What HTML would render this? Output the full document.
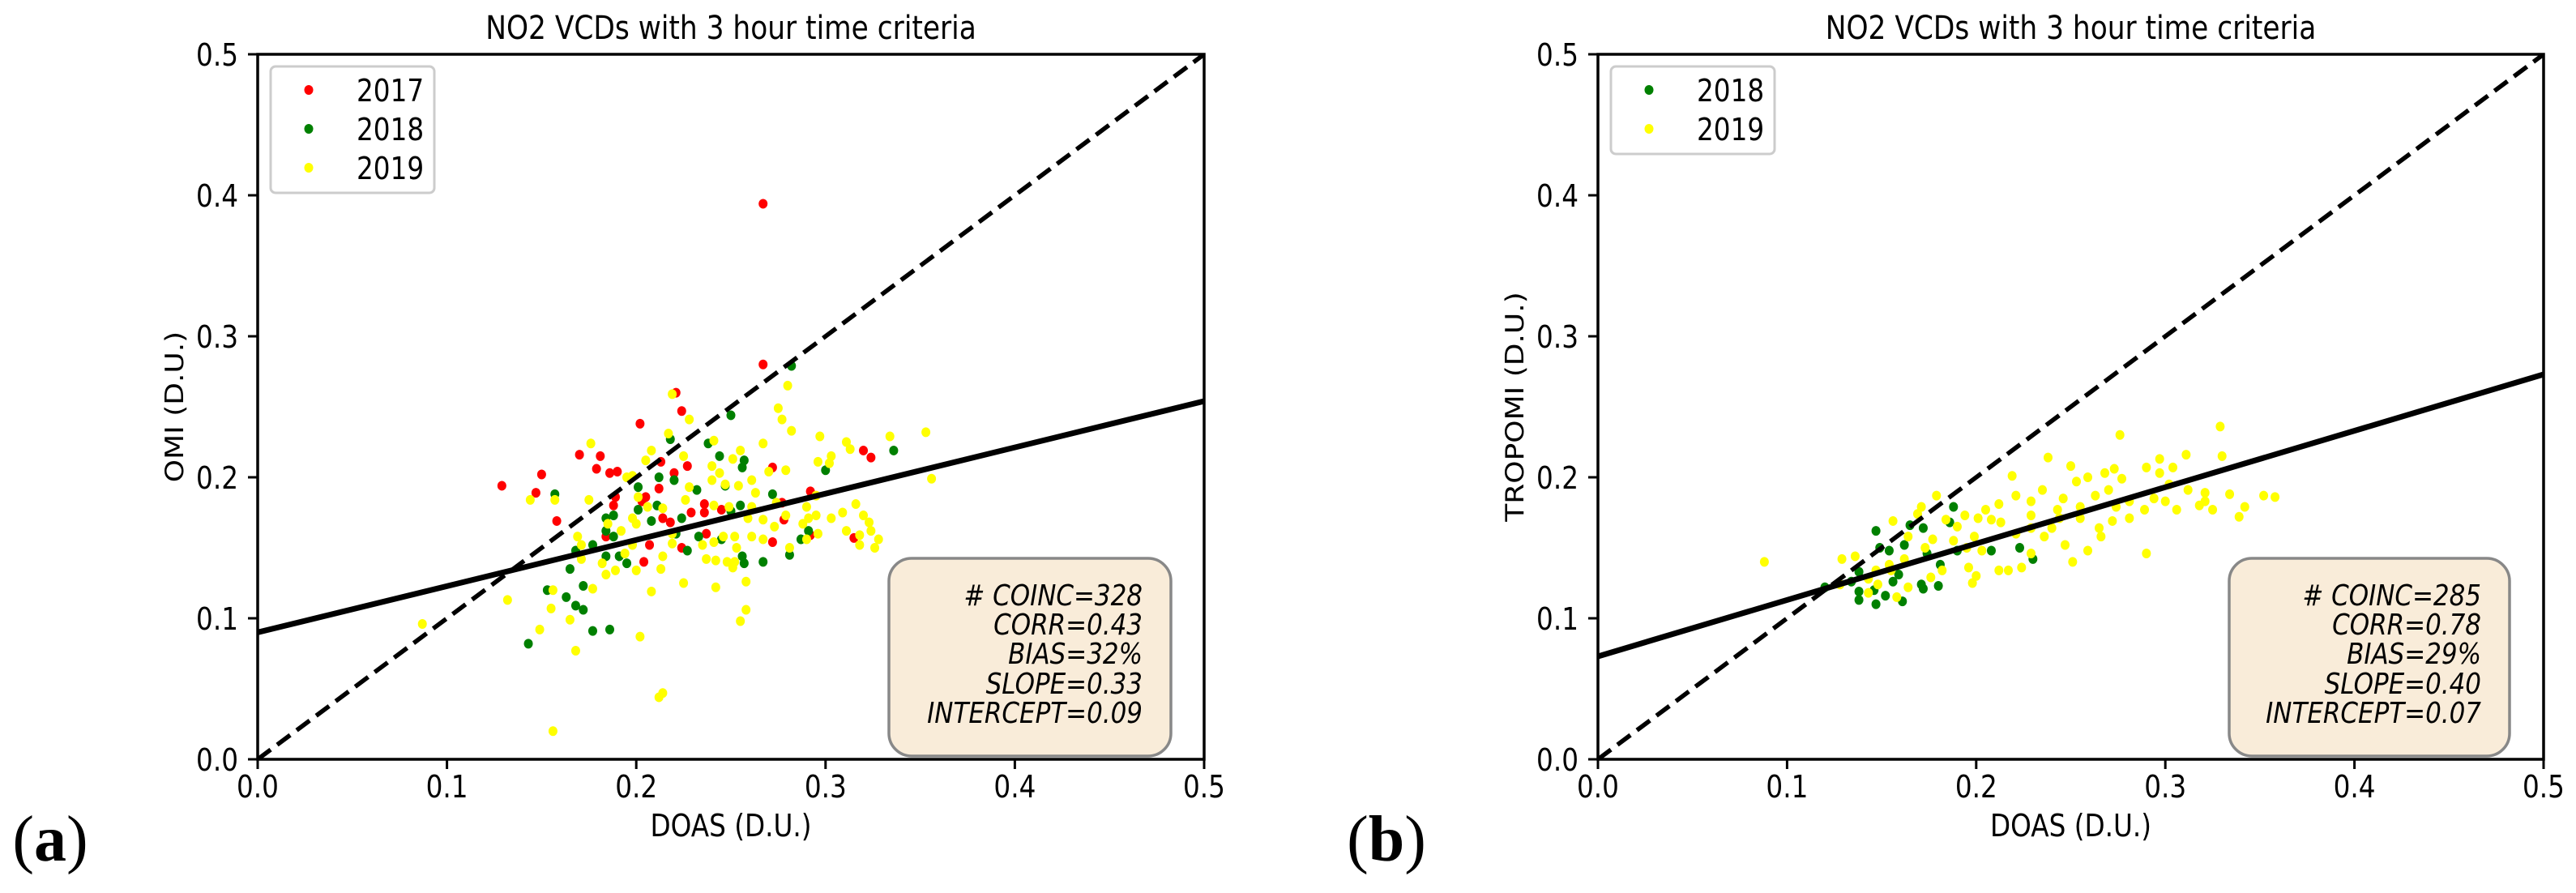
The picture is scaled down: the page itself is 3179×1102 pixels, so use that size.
<!DOCTYPE html>
<html><head><meta charset="utf-8">
<style>
html,body{margin:0;padding:0;background:#fff;}
svg{display:block;}
</style></head>
<body>
<svg id="fig" xmlns="http://www.w3.org/2000/svg" width="3179" height="1102" viewBox="0 0 3179 1102" font-family="DejaVu Sans, Liberation Sans, sans-serif"></svg>
<script>
// ---------- data (x = DOAS, y = satellite, in D.U.) ----------
const tickValues = [0.0, 0.1, 0.2, 0.3, 0.4, 0.5];
const tickLabels = ["0.0", "0.1", "0.2", "0.3", "0.4", "0.5"];

const a2017x = [0.267,0.267,0.221,0.224,0.202,0.170,0.181,0.150,0.129,0.147,0.179,0.186,0.190,0.212,0.220,0.227,0.158,0.205,0.189,0.188,0.203,0.214,0.218,0.229,0.236,0.236,0.245,0.272,0.277,0.278,0.292,0.320,0.324,0.315,0.292,0.272,0.237,0.224,0.204,0.207,0.184,0.213];
const a2017y = [0.394,0.280,0.260,0.247,0.238,0.216,0.215,0.202,0.194,0.189,0.206,0.203,0.204,0.192,0.203,0.208,0.169,0.186,0.186,0.180,0.183,0.171,0.168,0.175,0.181,0.175,0.177,0.207,0.182,0.170,0.190,0.219,0.214,0.157,0.159,0.154,0.160,0.150,0.140,0.152,0.158,0.211];

const a2018x = [0.282,0.250,0.218,0.238,0.244,0.256,0.257,0.300,0.336,0.212,0.220,0.201,0.232,0.157,0.247,0.272,0.211,0.201,0.184,0.188,0.208,0.224,0.250,0.255,0.221,0.184,0.188,0.177,0.168,0.184,0.191,0.195,0.233,0.227,0.256,0.257,0.267,0.281,0.287,0.291,0.165,0.172,0.153,0.163,0.168,0.172,0.177,0.186,0.143,0.245];
const a2018y = [0.279,0.244,0.227,0.224,0.215,0.207,0.212,0.205,0.219,0.200,0.198,0.193,0.191,0.188,0.194,0.188,0.180,0.177,0.171,0.173,0.169,0.171,0.176,0.180,0.160,0.162,0.158,0.152,0.148,0.144,0.144,0.139,0.158,0.148,0.144,0.139,0.140,0.145,0.156,0.162,0.135,0.123,0.120,0.115,0.109,0.106,0.091,0.092,0.082,0.156];

const a2019x = [0.353,0.356,0.334,0.311,0.313,0.297,0.303,0.296,0.302,0.275,0.280,0.277,0.282,0.267,0.279,0.270,0.219,0.228,0.217,0.208,0.176,0.225,0.241,0.255,0.205,0.251,0.240,0.244,0.195,0.240,0.247,0.254,0.261,0.144,0.157,0.175,0.214,0.228,0.226,0.241,0.249,0.263,0.261,0.274,0.290,0.295,0.316,0.309,0.303,0.320,0.323,0.295,0.291,0.279,0.267,0.259,0.273,0.288,0.311,0.318,0.324,0.328,0.318,0.326,0.296,0.290,0.281,0.267,0.261,0.252,0.246,0.241,0.235,0.253,0.248,0.252,0.242,0.251,0.237,0.198,0.201,0.206,0.198,0.200,0.192,0.185,0.169,0.171,0.171,0.182,0.184,0.189,0.200,0.194,0.214,0.213,0.198,0.219,0.219,0.177,0.156,0.208,0.225,0.242,0.258,0.258,0.255,0.132,0.155,0.165,0.149,0.087,0.168,0.202,0.214,0.212,0.156];
const a2019y = [0.232,0.199,0.229,0.225,0.220,0.229,0.215,0.211,0.210,0.249,0.265,0.241,0.233,0.224,0.205,0.204,0.259,0.241,0.231,0.219,0.224,0.215,0.226,0.219,0.212,0.213,0.208,0.203,0.200,0.198,0.195,0.194,0.198,0.184,0.184,0.184,0.178,0.193,0.184,0.180,0.179,0.189,0.179,0.182,0.179,0.187,0.181,0.175,0.171,0.173,0.168,0.173,0.171,0.173,0.170,0.171,0.165,0.167,0.162,0.159,0.162,0.156,0.152,0.150,0.160,0.156,0.150,0.156,0.158,0.158,0.158,0.154,0.152,0.150,0.140,0.140,0.141,0.136,0.142,0.201,0.186,0.179,0.171,0.167,0.162,0.167,0.158,0.152,0.142,0.139,0.131,0.134,0.134,0.146,0.144,0.135,0.152,0.160,0.153,0.121,0.120,0.119,0.125,0.122,0.126,0.106,0.098,0.113,0.107,0.099,0.092,0.096,0.077,0.087,0.047,0.044,0.020];

const b2018x = [0.188,0.186,0.165,0.147,0.172,0.162,0.149,0.154,0.174,0.190,0.208,0.223,0.230,0.181,0.138,0.159,0.156,0.134,0.138,0.146,0.171,0.180,0.172,0.138,0.147,0.161,0.152,0.120];
const b2018y = [0.179,0.168,0.166,0.162,0.164,0.152,0.150,0.148,0.146,0.148,0.148,0.150,0.142,0.138,0.133,0.131,0.126,0.126,0.119,0.120,0.124,0.123,0.121,0.113,0.110,0.112,0.116,0.122];

const b2019x = [0.088,0.329,0.276,0.330,0.311,0.297,0.238,0.250,0.259,0.273,0.290,0.304,0.352,0.358,0.342,0.339,0.325,0.318,0.334,0.321,0.312,0.302,0.294,0.289,0.281,0.270,0.263,0.255,0.246,0.243,0.235,0.229,0.219,0.221,0.212,0.205,0.201,0.208,0.213,0.194,0.190,0.184,0.179,0.171,0.188,0.199,0.203,0.196,0.200,0.198,0.217,0.224,0.229,0.236,0.247,0.251,0.259,0.266,0.272,0.281,0.290,0.240,0.229,0.221,0.169,0.164,0.156,0.162,0.154,0.147,0.143,0.136,0.129,0.128,0.143,0.158,0.164,0.176,0.182,0.173,0.177,0.195,0.212,0.265,0.274,0.297,0.277,0.253,0.268,0.300,0.306,0.321,0.244,0.255,0.229,0.155,0.148];
const b2019y = [0.140,0.236,0.230,0.215,0.216,0.213,0.214,0.208,0.200,0.206,0.207,0.207,0.187,0.186,0.179,0.172,0.177,0.180,0.188,0.189,0.191,0.195,0.185,0.177,0.183,0.191,0.187,0.179,0.185,0.177,0.191,0.183,0.201,0.187,0.181,0.177,0.171,0.170,0.168,0.173,0.165,0.170,0.187,0.179,0.155,0.158,0.148,0.136,0.130,0.125,0.134,0.136,0.146,0.158,0.152,0.140,0.148,0.158,0.169,0.171,0.146,0.164,0.164,0.160,0.174,0.158,0.169,0.142,0.138,0.134,0.128,0.144,0.142,0.124,0.118,0.115,0.122,0.129,0.134,0.150,0.156,0.150,0.134,0.164,0.179,0.203,0.199,0.197,0.203,0.183,0.177,0.183,0.171,0.171,0.173,0.134,0.124];

const statsA = ["# COINC=328","CORR=0.43","BIAS=32%","SLOPE=0.33","INTERCEPT=0.09"];
const statsB = ["# COINC=285","CORR=0.78","BIAS=29%","SLOPE=0.40","INTERCEPT=0.07"];
const fitA = [0.328, 0.090]; // slope, intercept
const fitB = [0.400, 0.073];

// ---------- drawing ----------
const NS = "http://www.w3.org/2000/svg";
const svg = document.getElementById('fig');
const SX = 0.86;

function mk(tag, attrs, parent) {
  const e = document.createElementNS(NS, tag);
  for (const k in attrs) e.setAttribute(k, attrs[k]);
  (parent || svg).appendChild(e);
  return e;
}
function txt(parent, x, y, s, size, anchor, extra) {
  const t = mk('text', {transform: `translate(${x},${y}) scale(${SX},1)`, 'font-size': size, 'text-anchor': anchor || 'start'}, parent);
  if (extra) for (const k in extra) t.setAttribute(k, extra[k]);
  t.textContent = s;
  return t;
}

function panel(cfg) {
  const g = mk('g', {});
  
  
  const L = cfg.left, R = cfg.right, T = 67, B = 937;
  const xs = v => L + (v / 0.5) * (R - L);
  const ys = v => B - (v / 0.5) * (B - T);

  const title = txt(g, (L + R) / 2, 48, "NO2 VCDs with 3 hour time criteria", 40, 'middle');
  
  

  const cid = cfg.name + '-clip';
  const cp = mk('clipPath', {id: cid}, g);
  mk('rect', {x: L, y: T, width: R - L, height: B - T}, cp);
  const plot = mk('g', {'clip-path': `url(#${cid})`}, g);
  
  

  cfg.series.forEach(s => {
    const sg = mk('g', {fill: s.color}, plot);
    
    
    for (let i = 0; i < s.x.length; i++) {
      const c = mk('ellipse', {cx: xs(s.x[i]), cy: ys(s.y[i]), rx: 5.5, ry: 6}, sg);
      
      
    }
  });

  const d = mk('line', {x1: xs(0), y1: ys(0), x2: xs(0.5), y2: ys(0.5), stroke: '#000', 'stroke-width': 5.5, 'stroke-dasharray': '20,10'}, plot);
  
  
  const f = mk('line', {x1: xs(0), y1: ys(cfg.fit[1]), x2: xs(0.5), y2: ys(cfg.fit[1] + cfg.fit[0] * 0.5), stroke: '#000', 'stroke-width': 7}, plot);
  
  

  const fr = mk('rect', {x: L, y: T, width: R - L, height: B - T, fill: 'none', stroke: '#000', 'stroke-width': 3.5}, g);
  
  

  tickValues.forEach((v, i) => {
    const xt = mk('line', {x1: xs(v), y1: B, x2: xs(v), y2: B + 12, stroke: '#000', 'stroke-width': 3}, g);
    
    
    const xl = txt(g, xs(v), 984, tickLabels[i], 38, 'middle');
    
    
    const yt = mk('line', {x1: L - 12, y1: ys(v), x2: L, y2: ys(v), stroke: '#000', 'stroke-width': 3}, g);
    
    
    const yl = txt(g, L - 24, ys(v) + 14, tickLabels[i], 38, 'end');
    
    
  });

  const xlab = txt(g, (L + R) / 2, 1032, "DOAS (D.U.)", 38, 'middle');
  
  
  const ylab = mk('text', {transform: `translate(${cfg.ylabX},${(T + B) / 2}) rotate(-90) scale(1,${SX})`, 'font-size': 36, 'text-anchor': 'middle'}, g);
  ylab.textContent = cfg.ylabel;
  
  

  const lg = mk('g', {}, g);
  
  
  const n = cfg.series.length;
  mk('rect', {x: L + 16, y: 82, width: 202, height: 48 * n + 12, rx: 6, fill: '#fff', stroke: '#ccc', 'stroke-width': 3}, lg);
  cfg.series.forEach((s, i) => {
    const cy = 111 + 48 * i;
    const e = mk('g', {}, lg);
    
    
    mk('ellipse', {cx: L + 63, cy: cy, rx: 5.5, ry: 6, fill: s.color}, e);
    txt(e, L + 122, cy + 14, s.label, 38, 'start');
  });

  const sb = mk('g', {}, g);
  
  
  mk('rect', {x: cfg.boxL, y: 689, width: cfg.boxR - cfg.boxL, height: 244, rx: 28, fill: '#f9ecd9', stroke: '#888', 'stroke-width': 3.5}, sb);
  const base = [747, 783, 819, 856, 892];
  cfg.stats.forEach((s, i) => {
    const t = txt(sb, cfg.boxR - 35, base[i], s, 36, 'end', {'font-style': 'italic'});
    
    
  });

  const pl = mk('text', {x: cfg.letterX, y: 1062, 'font-size': 80, 'text-anchor': 'middle', style: 'font-family:"Liberation Serif","DejaVu Serif",serif'}, g);
  
  
  const p1 = mk('tspan', {}, pl); p1.textContent = '(';
  const p2 = mk('tspan', {'font-weight': 'bold'}, pl); p2.textContent = cfg.letter;
  const p3 = mk('tspan', {}, pl); p3.textContent = ')';
}

panel({name: 'panel-a', left: 318, right: 1486, ylabX: 226, ylabel: 'OMI (D.U.)', fit: fitA, stats: statsA,
  boxL: 1097, boxR: 1445, letter: 'a', letterX: 62,
  series: [{label: '2017', color: '#ff0000', x: a2017x, y: a2017y},
           {label: '2018', color: '#008000', x: a2018x, y: a2018y},
           {label: '2019', color: '#ffff00', x: a2019x, y: a2019y}]});
panel({name: 'panel-b', left: 1972, right: 3139, ylabX: 1880, ylabel: 'TROPOMI (D.U.)', fit: fitB, stats: statsB,
  boxL: 2751, boxR: 3097, letter: 'b', letterX: 1711,
  series: [{label: '2018', color: '#008000', x: b2018x, y: b2018y},
           {label: '2019', color: '#ffff00', x: b2019x, y: b2019y}]});
</script>
</body></html>
